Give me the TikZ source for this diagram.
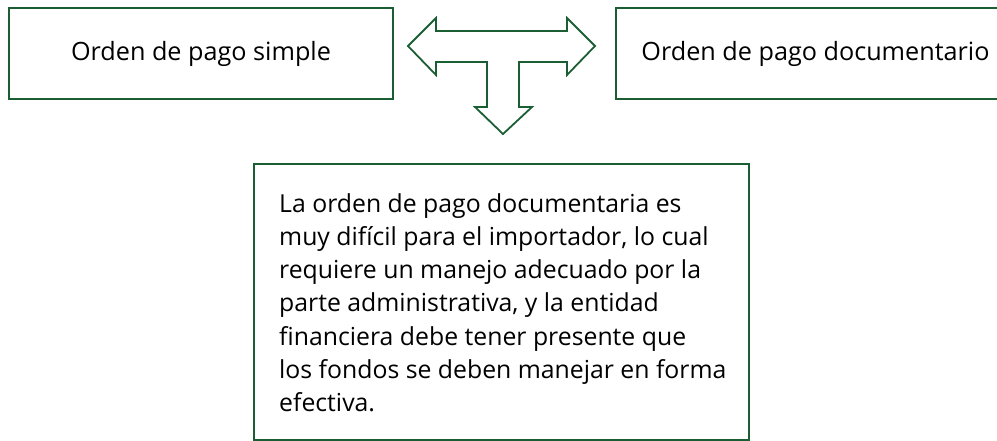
\documentclass[tikz,border=0pt]{standalone}
\usepackage{fontspec}
\setmainfont{Open Sans}
\definecolor{dgreen}{RGB}{28,94,52}
\begin{document}
\begin{tikzpicture}[x=1pt,y=-1pt,
  gbox/.style={draw=dgreen,line width=2pt},
  lbl/.style={font=\fontsize{25.2}{30}\selectfont,text=black,inner sep=0pt},
  body/.style={font=\fontsize{24.8}{33.3}\selectfont,text=black,inner sep=0pt}]
\useasboundingbox (0,0) rectangle (997,441);
\clip (0,0) rectangle (997,441);
\draw[gbox] (9,8) rectangle (393,99);
\node[lbl] (simple) at (201,53.5) {Orden de pago simple};
\draw[gbox] (616,8) rectangle (1015,99);
\node[lbl] (docu) at (815.5,53.5) {Orden de pago documentario};
\draw[gbox] (254,164) rectangle (749,440);
\node[body,anchor=base west,align=left] (texto) at (279,411.8)
 {La orden de pago documentaria es\\
  muy difícil para el importador, lo cual\\
  requiere un manejo adecuado por la\\
  parte administrativa, y la entidad\\
  financiera debe tener presente que\\
  los fondos se deben manejar en forma\\
  efectiva.};
\draw[dgreen,line width=1.8pt,line join=miter]
  (408,46) -- (436,18) -- (436,31) -- (567,31) -- (567,18) -- (595,46)
  -- (567,75) -- (567,62) -- (519,62) -- (519,107) -- (532,107)
  -- (503,134) -- (475,107) -- (487,107) -- (487,62) -- (436,62)
  -- (436,75) -- cycle;
\end{tikzpicture}
\end{document}
